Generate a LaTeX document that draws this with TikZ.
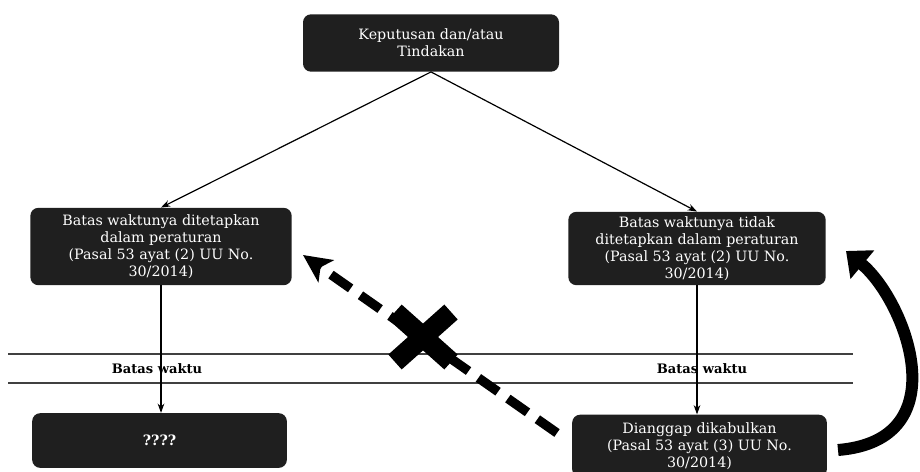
\documentclass[tikz,border=0pt]{standalone}
\usepackage{fontspec}
\setmainfont{DejaVu Serif}
\usetikzlibrary{arrows.meta}

\tikzset{
  kotak/.style={fill=black!88, text=white, rounded corners=6pt, align=center,
    inner sep=2pt, font=\fontsize{10.7}{12.9}\selectfont},
  panah/.style={draw=black, line width=0.9pt, -{Stealth[length=7pt,width=5pt]}},
  garis/.style={draw=black!75, line width=1.3pt},
  label waktu/.style={font=\fontsize{9.8}{11}\selectfont\bfseries, text=black},
}

\begin{document}
\begin{tikzpicture}[x=0.75pt,y=0.75pt,yscale=-1,xscale=1]
\useasboundingbox (0,0) rectangle (920,471);

% Text Node
\node[kotak, minimum width=192pt, minimum height=43pt] (kep) at (431,43) {Keputusan dan/atau\\Tindakan};
% Text Node
\node[kotak, minimum width=196pt, minimum height=58pt] (ditetapkan) at (161,246.5) {Batas waktunya ditetapkan\\dalam peraturan\\(Pasal 53 ayat (2) UU No.\\30/2014)};
% Text Node
\node[kotak, minimum width=193pt, minimum height=55pt] (tidak) at (697,248.5) {Batas waktunya tidak\\ditetapkan dalam peraturan\\(Pasal 53 ayat (2) UU No.\\30/2014)};
% Text Node
\node[kotak, minimum width=191pt, minimum height=41pt, font=\fontsize{10.7}{12.9}\selectfont\bfseries] (tanya) at (159.5,440.5) {????};
% Text Node
\node[kotak, minimum width=191pt, minimum height=47pt] (dianggap) at (699.5,446) {Dianggap dikabulkan\\(Pasal 53 ayat (3) UU No.\\30/2014)};

%Straight Lines
\coordinate (garisAkiri) at (8,354);
\coordinate (garisAkanan) at (853,354);
\coordinate (garisBkiri) at (8,383);
\coordinate (garisBkanan) at (853,383);
\draw[garis] (garisAkiri) -- (garisAkanan);
\draw[garis] (garisBkiri) -- (garisBkanan);

% Text Node
\node[label waktu] (waktuKiri) at (157,369) {Batas waktu};
% Text Node
\node[label waktu] (waktuKanan) at (702,369) {Batas waktu};

%Straight Lines
\draw[panah] (kep.south) -- (ditetapkan.north);
\draw[panah] (kep.south) -- (tidak.north);
\draw[panah] (ditetapkan.south) -- (ditetapkan.south |- tanya.north);
\draw[panah] (tidak.south) -- (tidak.south |- dianggap.north);

%Dashed arrow
\coordinate (putusAwal) at (557,433);
\coordinate (putusUjung) at (303,255);
\draw[line width=7pt, dash pattern=on 18pt off 9pt, -{Stealth[length=21pt,width=20pt,inset=5pt]}] (putusAwal) -- (putusUjung);

% Cross
\coordinate (silang) at (423,337);
\draw[line width=15pt] ([shift={(-28,-25)}]silang) -- ([shift={(28,25)}]silang);
\draw[line width=15pt] ([shift={(28,-25)}]silang) -- ([shift={(-28,25)}]silang);

%Curve Lines
\coordinate (ekorLengkung) at (838,450);
\coordinate (ujungLengkung) at (846,251);
\draw[line width=9pt, -{Triangle[length=16pt,width=27pt]}] (ekorLengkung) .. controls (960,440) and (905,300) .. (ujungLengkung);

\end{tikzpicture}
\end{document}
